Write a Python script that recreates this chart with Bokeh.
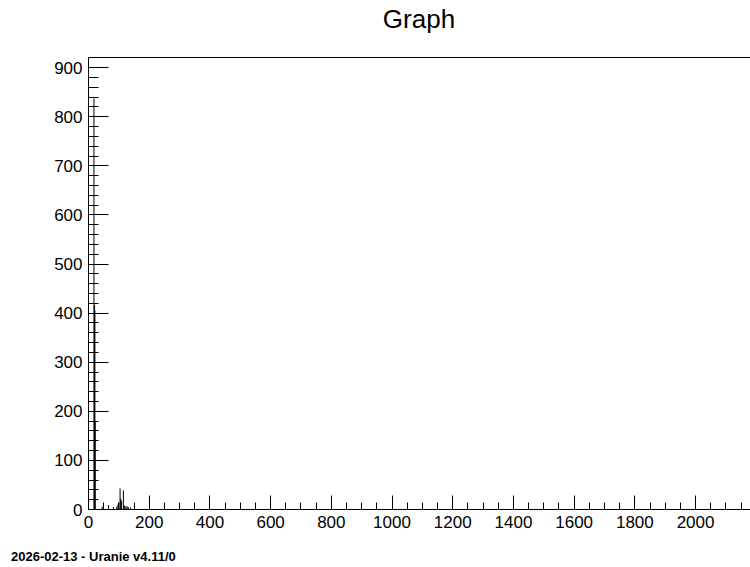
from bokeh.plotting import figure
from bokeh.models import (Range1d, SingleIntervalTicker, FixedTicker, LinearAxis,
                          ColumnDataSource, Div)
from bokeh.layouts import column
from bokeh.embed import file_html
from bokeh.resources import INLINE

# ---- data ----
x_vals = [18, 20, 21, 22, 45, 66, 82, 93, 97, 100, 104, 106, 109, 115, 119, 123, 127, 131, 138]
y_vals = [837, 417, 405, 180, 6, 9, 5, 6, 10, 14, 43, 22, 18, 39, 8, 6, 7, 5, 4]
x_max = 2181
y_max = 920.7
title_text = "Graph"
footer_text = "2026-02-13 - Uranie v4.11/0"

FONT = "Liberation Sans"

src = ColumnDataSource(dict(x=x_vals, y=y_vals, y0=[0] * len(x_vals)))

title_div = Div(text=title_text, width=662, height=30, margin=(4, 0, 0, 88),
                styles={"font-family": FONT, "font-size": "26px",
                        "line-height": "30px", "text-align": "center",
                        "color": "black", "width": "662px"})

p = figure(width=750, height=515, output_backend="svg", toolbar_location=None,
           x_range=Range1d(0, x_max), y_range=Range1d(0, y_max),
           min_border_left=88, min_border_right=0, min_border_top=23,
           min_border_bottom=40)
p.background_fill_color = "white"
p.border_fill_color = "white"
p.outline_line_color = None
p.xgrid.visible = False
p.ygrid.visible = False

p.segment(x0="x", y0="y0", x1="x", y1="y", source=src,
          line_color="black", line_width=1)

# x axis
xa = p.xaxis[0]
xa.ticker = SingleIntervalTicker(interval=200, num_minor_ticks=4)
xa.major_tick_in = 14
xa.major_tick_out = 0
xa.minor_tick_in = 7
xa.minor_tick_out = 0
xa.major_label_standoff = 6
xa.major_label_text_font = FONT
xa.major_label_text_font_size = "17px"
xa.major_label_text_color = "black"
xa.axis_line_color = "black"
xa.major_tick_line_color = "black"
xa.minor_tick_line_color = "black"

# y axis
ya = p.yaxis[0]
ya.ticker = SingleIntervalTicker(interval=100, num_minor_ticks=5)
ya.major_tick_in = 20
ya.major_tick_out = 0
ya.minor_tick_in = 10
ya.minor_tick_out = 0
ya.major_label_standoff = 6
ya.major_label_text_font = FONT
ya.major_label_text_font_size = "17px"
ya.major_label_text_color = "black"
ya.axis_line_color = "black"
ya.major_tick_line_color = "black"
ya.minor_tick_line_color = "black"

# top frame line
top = LinearAxis(ticker=FixedTicker(ticks=[]), major_tick_in=0, major_tick_out=0,
                 minor_tick_in=0, minor_tick_out=0, major_label_standoff=0,
                 axis_line_color="black")
p.add_layout(top, "above")

footer = Div(text=footer_text, width=300, height=16, margin=(0, 0, 0, 11),
             styles={"font-family": FONT, "font-size": "13px",
                     "font-weight": "bold", "line-height": "15px",
                     "color": "black"})

layout = column(title_div, p, footer, spacing=0)

open("out.html", "w").write(file_html(layout, INLINE))
